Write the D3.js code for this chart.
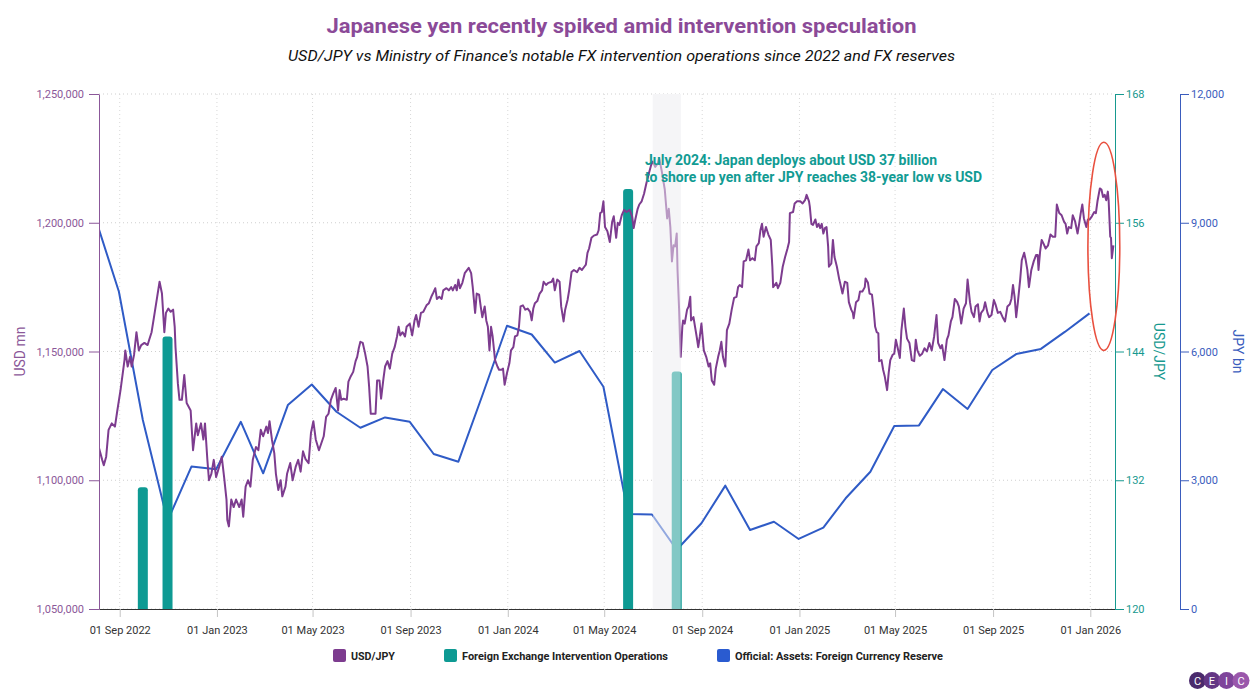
<!DOCTYPE html>
<html>
<head>
<meta charset="utf-8">
<script src="https://cdn.jsdelivr.net/npm/d3@7"></script>
<style>
  body { margin: 0; background: #fff; }
  svg { font-family: Roboto, "Noto Sans", sans-serif; }
</style>
</head>
<body>
<div id="chart"></div>
<script>
// USD/JPY (date, rate)
const usdjpy2022 = [
  ["2022-08-06",135.0],["2022-08-10",133.9],["2022-08-12",133.4],["2022-08-15",134.2],["2022-08-18",136.7],["2022-08-22",137.3],["2022-08-26",137.0],["2022-08-29",138.5],
  ["2022-09-02",140.4],["2022-09-07",143.2],["2022-09-08",144.1],["2022-09-11",142.6],["2022-09-14",143.5],["2022-09-16",142.6],["2022-09-19",143.7],["2022-09-22",145.8],["2022-09-25",144.1],["2022-09-28",144.6],
  ["2022-10-02",144.8],["2022-10-06",144.6],["2022-10-08",145.1],["2022-10-11",145.8],["2022-10-14",147.2],["2022-10-18",149.1],["2022-10-21",150.5],["2022-10-24",149.4],["2022-10-27",145.8],["2022-10-29",147.6],
  ["2022-11-01",148.0],["2022-11-04",147.7],["2022-11-07",147.9],["2022-11-09",146.3],["2022-11-10",144.4],["2022-11-13",141.0],["2022-11-15",139.5],["2022-11-18",139.5],["2022-11-21",141.8],["2022-11-24",139.2],["2022-11-29",138.5],
  ["2022-12-02",134.8],["2022-12-06",137.3],["2022-12-08",136.2],["2022-12-12",137.3],["2022-12-15",135.8],["2022-12-17",137.3],["2022-12-20",133.9],["2022-12-22",132.0],["2022-12-25",132.6],["2022-12-28",133.9],["2022-12-31",132.3]
];
const usdjpy2023 = [
  ["2023-01-04",133.3],["2023-01-07",134.2],["2023-01-10",132.3],["2023-01-13",130.2],["2023-01-14",128.3],["2023-01-16",127.7],["2023-01-19",130.2],["2023-01-22",129.5],["2023-01-25",130.2],["2023-01-29",129.5],
  ["2023-02-01",130.2],["2023-02-03",128.6],["2023-02-06",131.4],["2023-02-09",132.0],["2023-02-12",131.4],["2023-02-15",133.9],["2023-02-19",135.1],["2023-02-22",134.8],["2023-02-25",136.7],["2023-02-28",136.1],
  ["2023-03-04",137.0],["2023-03-06",136.4],["2023-03-08",137.5],["2023-03-11",135.8],["2023-03-14",134.5],["2023-03-16",132.6],["2023-03-19",131.1],["2023-03-22",132.0],["2023-03-24",130.5],["2023-03-28",131.4],["2023-03-30",132.6],
  ["2023-04-03",133.6],["2023-04-06",132.0],["2023-04-10",133.3],["2023-04-13",133.9],["2023-04-16",132.8],["2023-04-19",134.7],["2023-04-22",134.0],["2023-04-26",133.6],["2023-04-29",136.4],
  ["2023-05-02",137.5],["2023-05-05",135.8],["2023-05-09",134.8],["2023-05-15",136.1],["2023-05-18",137.9],["2023-05-21",138.2],["2023-05-24",139.5],["2023-05-27",140.1],["2023-05-30",140.6],
  ["2023-06-02",138.5],["2023-06-04",140.4],["2023-06-06",139.5],["2023-06-09",139.6],["2023-06-13",139.5],["2023-06-15",141.2],["2023-06-18",141.7],["2023-06-21",142.1],["2023-06-24",143.1],["2023-06-26",143.5],["2023-06-28",144.3],["2023-06-30",144.9],
  ["2023-07-03",144.8],["2023-07-06",143.8],["2023-07-09",142.6],["2023-07-11",140.7],["2023-07-13",138.2],["2023-07-19",138.2],["2023-07-21",141.3],["2023-07-24",141.3],["2023-07-26",139.6],["2023-07-29",141.5],["2023-07-31",142.6],
  ["2023-08-03",143.1],["2023-08-06",142.4],["2023-08-09",143.8],["2023-08-12",144.4],["2023-08-15",145.4],["2023-08-17",146.3],["2023-08-19",145.5],["2023-08-22",145.8],["2023-08-25",145.4],["2023-08-27",146.3],["2023-08-31",146.6],
  ["2023-09-03",145.5],["2023-09-06",146.9],["2023-09-08",147.4],["2023-09-11",146.3],["2023-09-14",147.6],["2023-09-17",147.7],["2023-09-21",148.3],["2023-09-24",148.5],["2023-09-27",149.1],["2023-09-29",149.4],
  ["2023-10-02",149.9],["2023-10-04",148.9],["2023-10-07",149.1],["2023-10-10",148.9],["2023-10-12",149.7],["2023-10-16",149.9],["2023-10-19",149.7],["2023-10-22",150.0],["2023-10-24",149.7],["2023-10-27",150.2],["2023-10-29",149.7],["2023-10-31",150.7],
  ["2023-11-02",149.9],["2023-11-05",150.4],["2023-11-08",151.3],["2023-11-13",151.8],["2023-11-16",151.3],["2023-11-18",150.0],["2023-11-21",147.6],["2023-11-23",149.4],["2023-11-26",149.3],["2023-11-28",148.2],["2023-11-30",147.2],
  ["2023-12-03",148.2],["2023-12-05",146.9],["2023-12-07",146.3],["2023-12-09",144.1],["2023-12-11",146.3],["2023-12-13",145.4],["2023-12-16",143.2],["2023-12-19",142.6],["2023-12-21",142.3],["2023-12-24",142.3],["2023-12-26",142.4],["2023-12-28",140.9],["2023-12-31",142.0]
];
const usdjpy2024 = [
  ["2024-01-03",142.9],["2024-01-05",144.1],["2024-01-08",144.4],["2024-01-10",145.4],["2024-01-13",145.5],["2024-01-15",146.3],["2024-01-17",148.2],["2024-01-20",148.3],["2024-01-23",147.9],["2024-01-26",148.0],["2024-01-29",147.7],["2024-01-31",146.9],
  ["2024-02-02",148.0],["2024-02-04",148.5],["2024-02-07",148.7],["2024-02-10",149.4],["2024-02-13",149.7],["2024-02-15",150.5],["2024-02-18",150.2],["2024-02-21",150.4],["2024-02-25",150.5],["2024-02-27",150.8],["2024-02-29",149.7],
  ["2024-03-03",150.7],["2024-03-06",150.5],["2024-03-08",148.2],["2024-03-11",146.8],["2024-03-13",147.9],["2024-03-16",148.8],["2024-03-18",149.7],["2024-03-21",151.4],["2024-03-24",151.6],["2024-03-28",151.4],["2024-03-31",151.8],
  ["2024-04-03",151.6],["2024-04-06",151.9],["2024-04-08",152.1],["2024-04-10",153.2],["2024-04-12",153.6],["2024-04-15",154.6],["2024-04-18",154.8],["2024-04-22",154.9],["2024-04-24",155.3],["2024-04-26",156.9],["2024-04-28",157.0],["2024-04-30",158.0],
  ["2024-05-02",155.6],["2024-05-05",155.2],["2024-05-08",154.2],["2024-05-11",156.1],["2024-05-13",156.6],["2024-05-16",154.6],["2024-05-18",156.0],["2024-05-20",155.8],["2024-05-23",156.7],["2024-05-26",157.2],["2024-05-29",157.0],
  ["2024-06-02",157.2],["2024-06-05",156.6],["2024-06-07",155.5],["2024-06-09",156.3],["2024-06-12",157.3],["2024-06-14",157.7],["2024-06-17",158.0],["2024-06-20",158.7],["2024-06-23",159.7],["2024-06-26",160.6],["2024-06-29",161.4],
  ["2024-07-01",161.7],["2024-07-04",161.2],["2024-07-07",161.5],["2024-07-09",162.0],["2024-07-12",160.9],["2024-07-14",160.0],["2024-07-16",159.1],["2024-07-19",156.4],["2024-07-21",157.3],["2024-07-23",155.6],["2024-07-25",152.4],["2024-07-27",153.9],["2024-07-29",153.8],["2024-07-31",155.0],
  ["2024-08-01",151.6],["2024-08-03",147.9],["2024-08-04",145.4],["2024-08-05",143.5],["2024-08-07",146.3],["2024-08-08",146.9],["2024-08-10",146.6],["2024-08-13",147.9],["2024-08-15",148.2],["2024-08-17",149.1],["2024-08-18",146.9],["2024-08-21",147.2],["2024-08-23",146.3],["2024-08-25",145.4],["2024-08-27",144.4],["2024-08-29",145.4],["2024-08-31",146.6],
  ["2024-09-03",144.1],["2024-09-06",143.5],["2024-09-09",142.6],["2024-09-11",142.9],["2024-09-13",141.3],["2024-09-16",140.9],["2024-09-18",142.4],["2024-09-21",143.5],["2024-09-23",144.1],["2024-09-25",144.9],["2024-09-27",143.5],["2024-09-30",142.6],
  ["2024-10-02",146.0],["2024-10-05",146.6],["2024-10-08",147.9],["2024-10-11",149.0],["2024-10-14",149.1],["2024-10-16",150.0],["2024-10-18",150.2],["2024-10-21",150.0],["2024-10-23",152.4],["2024-10-26",152.5],["2024-10-29",153.5],["2024-10-31",152.5],
  ["2024-11-03",152.7],["2024-11-06",152.5],["2024-11-08",153.8],["2024-11-11",154.1],["2024-11-13",155.3],["2024-11-15",155.9],["2024-11-17",154.7],["2024-11-20",155.6],["2024-11-23",154.9],["2024-11-26",154.4],["2024-11-28",151.9],["2024-11-29",150.0],
  ["2024-12-03",150.4],["2024-12-05",149.9],["2024-12-08",150.4],["2024-12-11",151.9],["2024-12-14",152.8],["2024-12-17",153.6],["2024-12-19",154.2],["2024-12-20",156.9],["2024-12-24",157.0],["2024-12-26",157.8],["2024-12-29",158.0]
];
const usdjpy2025 = [
  ["2025-01-02",158.0],["2025-01-05",157.8],["2025-01-08",158.1],["2025-01-10",158.6],["2025-01-13",158.0],["2025-01-14",157.5],["2025-01-16",155.9],["2025-01-18",155.8],["2025-01-21",156.3],["2025-01-23",155.6],["2025-01-25",155.9],["2025-01-27",155.5],["2025-01-29",155.9],["2025-01-31",155.0],
  ["2025-02-02",155.5],["2025-02-04",155.6],["2025-02-06",153.8],["2025-02-07",151.9],["2025-02-10",152.2],["2025-02-12",154.4],["2025-02-14",152.8],["2025-02-17",151.9],["2025-02-20",150.7],["2025-02-21",150.4],["2025-02-24",149.4],["2025-02-27",150.5],
  ["2025-03-02",150.4],["2025-03-04",148.6],["2025-03-07",147.9],["2025-03-09",147.6],["2025-03-10",147.1],["2025-03-13",148.6],["2025-03-16",148.8],["2025-03-18",149.6],["2025-03-21",149.6],["2025-03-24",150.0],["2025-03-25",150.8],["2025-03-28",150.4],["2025-03-30",149.4],
  ["2025-04-02",149.3],["2025-04-04",148.0],["2025-04-06",146.3],["2025-04-08",145.8],["2025-04-10",145.7],["2025-04-11",143.1],["2025-04-14",143.2],["2025-04-16",142.3],["2025-04-18",141.7],["2025-04-21",140.4],["2025-04-23",142.0],["2025-04-25",143.2],["2025-04-28",143.7],["2025-04-30",143.8],
  ["2025-05-02",145.1],["2025-05-05",144.1],["2025-05-07",143.4],["2025-05-09",146.0],["2025-05-12",148.0],["2025-05-14",146.3],["2025-05-16",145.2],["2025-05-19",144.8],["2025-05-22",143.2],["2025-05-25",143.1],["2025-05-27",145.1],["2025-05-29",144.1],
  ["2025-06-01",143.6],["2025-06-04",143.8],["2025-06-07",144.3],["2025-06-10",144.0],["2025-06-13",144.8],["2025-06-16",144.1],["2025-06-19",145.4],["2025-06-22",147.4],["2025-06-24",144.8],["2025-06-27",144.3],["2025-06-29",144.6],
  ["2025-07-02",143.2],["2025-07-05",145.1],["2025-07-07",145.5],["2025-07-10",146.8],["2025-07-12",147.2],["2025-07-15",148.9],["2025-07-18",148.6],["2025-07-20",148.2],["2025-07-23",146.6],["2025-07-26",148.0],["2025-07-29",148.5],["2025-07-31",150.7],
  ["2025-08-03",148.6],["2025-08-05",147.7],["2025-08-08",147.2],["2025-08-10",148.2],["2025-08-13",148.4],["2025-08-15",146.8],["2025-08-17",147.6],["2025-08-20",147.9],["2025-08-22",148.6],["2025-08-25",147.6],["2025-08-27",147.2],["2025-08-30",147.4],
  ["2025-09-02",148.8],["2025-09-04",148.4],["2025-09-07",147.6],["2025-09-10",147.7],["2025-09-13",147.2],["2025-09-16",146.8],["2025-09-19",148.2],["2025-09-22",148.4],["2025-09-24",148.9],["2025-09-26",150.2],["2025-09-28",149.1],["2025-09-30",147.2],
  ["2025-10-02",148.5],["2025-10-05",150.7],["2025-10-07",152.5],["2025-10-10",153.2],["2025-10-12",152.5],["2025-10-14",151.6],["2025-10-16",150.0],["2025-10-19",151.6],["2025-10-22",152.4],["2025-10-25",153.0],["2025-10-27",153.0],["2025-10-28",151.6],["2025-10-30",153.3],
  ["2025-11-01",154.4],["2025-11-03",154.1],["2025-11-06",153.6],["2025-11-09",153.9],["2025-11-12",154.9],["2025-11-15",154.7],["2025-11-18",154.7],["2025-11-20",157.7],["2025-11-23",156.9],["2025-11-26",156.7],["2025-11-29",156.1],
  ["2025-12-01",155.9],["2025-12-03",155.0],["2025-12-05",155.6],["2025-12-08",155.5],["2025-12-10",156.7],["2025-12-13",156.1],["2025-12-16",155.0],["2025-12-18",155.9],["2025-12-20",156.9],["2025-12-22",157.7],["2025-12-24",156.4],["2025-12-27",155.6],["2025-12-29",156.3],["2025-12-31",156.3]
];
const usdjpy2026 = [
  ["2026-01-03",156.6],["2026-01-06",157.0],["2026-01-08",156.9],["2026-01-10",158.0],["2026-01-13",159.2],["2026-01-15",159.1],["2026-01-17",158.4],["2026-01-19",158.6],["2026-01-21",158.1],["2026-01-23",158.9],["2026-01-24",158.1],["2026-01-26",154.7],["2026-01-27",154.6],["2026-01-28",152.7],["2026-01-30",153.9]
];

// Official: Assets: Foreign Currency Reserve, USD mn, month end
const reserveDates = [
  "2022-07-31","2022-08-31","2022-09-30","2022-10-31","2022-11-30","2022-12-31",
  "2023-01-31","2023-02-28","2023-03-31","2023-04-30","2023-05-31","2023-06-30",
  "2023-07-31","2023-08-31","2023-09-30","2023-10-31","2023-11-30","2023-12-31",
  "2024-01-31","2024-02-29","2024-03-31","2024-04-30","2024-05-31","2024-06-30",
  "2024-07-31","2024-08-31","2024-09-30","2024-10-31","2024-11-30","2024-12-31",
  "2025-01-31","2025-02-28","2025-03-31","2025-04-30","2025-05-31","2025-06-30",
  "2025-07-31","2025-08-31","2025-09-30","2025-10-31","2025-11-30","2025-12-31"
];
const reserveValues = [
  1203200, 1173200, 1123400, 1084200, 1105300, 1104300,
  1122700, 1102700, 1129200, 1137200, 1126600, 1120400,
  1124400, 1122700, 1110200, 1107200, 1132900, 1160000,
  1156600, 1145700, 1150200, 1136300, 1086900, 1086700,
  1073000, 1083300, 1097900, 1080700, 1083900, 1077200,
  1081600, 1093000, 1103300, 1121100, 1121300, 1135400,
  1127700, 1142800, 1149000, 1151000, 1157600, 1164800
];

// Foreign Exchange Intervention Operations, JPY bn
const interventionDates = ["2022-09-30", "2022-10-31", "2024-05-31", "2024-07-31"];
const interventionValues = [2838, 6349, 9788, 5532];

const reserveTicks = [1050000, 1100000, 1150000, 1200000, 1250000];
const fxTicks = [120, 132, 144, 156, 168];
const jpyTicks = [0, 3000, 6000, 9000, 12000];
const xDomain = ["2022-08-06", "2026-02-01"];

const highlightBand = ["2024-07-01", "2024-08-05"];
const circleDates = ["2025-12-29", "2026-02-07"];
const circleRates = [144.1, 163.5];

const titleText = "Japanese yen recently spiked amid intervention speculation";
const subtitleText = "USD/JPY vs Ministry of Finance's notable FX intervention operations since 2022 and FX reserves";
const noteLines = ["July 2024: Japan deploys about USD 37 billion", "to shore up yen after JPY reaches 38-year low vs USD"];
const legendLabels = ["USD/JPY", "Foreign Exchange Intervention Operations", "Official: Assets: Foreign Currency Reserve"];

const purple = "#7d3c8f",
    teal = "#0e9a93",
    blue = "#2f5bc6",
    bandFill = "#f5f5f7";

const width = 1259,
    height = 700;
const margin = {
        top: 94,
        right: 144,
        bottom: 91,
        left: 99
    },
    plotW = width - margin.left - margin.right,
    plotH = height - margin.top - margin.bottom;

const parse = d3.utcParse("%Y-%m-%d");

let svg = d3
    .select("#chart")
    .append("svg")
    .attr("width", width)
    .attr("height", height);

svg.append("rect").attr("width", width).attr("height", height).attr("fill", "#fff");

// titles
svg.append("text")
    .attr("x", 621.5)
    .attr("y", 33)
    .attr("text-anchor", "middle")
    .attr("font-size", 21)
    .attr("font-weight", "bold")
    .attr("fill", "#8b4a98")
    .attr("textLength", 590)
    .attr("lengthAdjust", "spacingAndGlyphs")
    .text(titleText);

svg.append("text")
    .attr("x", 621.5)
    .attr("y", 61)
    .attr("text-anchor", "middle")
    .attr("font-size", 15)
    .attr("font-style", "italic")
    .attr("fill", "#111")
    .attr("textLength", 667)
    .attr("lengthAdjust", "spacingAndGlyphs")
    .text(subtitleText);

let group = svg
    .append("g")
    .attr("transform", "translate(" + margin.left + "," + margin.top + ")");

const x = d3.scaleUtc()
    .domain(xDomain.map(parse))
    .range([0, plotW]);

const yRes = d3.scaleLinear().domain([1050000, 1250000]).range([plotH, 0]);
const yFx = d3.scaleLinear().domain([120, 168]).range([plotH, 0]);
const yJpy = d3.scaleLinear().domain([0, 12000]).range([plotH, 0]);

const xTicks = x.ticks(d3.utcMonth.every(4));

// grid
group.append("g")
    .selectAll("line")
    .data(reserveTicks)
    .enter()
    .append("line")
    .attr("x1", 0)
    .attr("x2", plotW)
    .attr("y1", d => yRes(d))
    .attr("y2", d => yRes(d))
    .attr("stroke", "#cfcfcf")
    .attr("stroke-dasharray", "1,3");

group.append("g")
    .selectAll("line")
    .data(xTicks)
    .enter()
    .append("line")
    .attr("x1", d => x(d))
    .attr("x2", d => x(d))
    .attr("y1", 0)
    .attr("y2", plotH)
    .attr("stroke", "#d8d8d8")
    .attr("stroke-dasharray", "1,3");

// July 2024 band
const bandX0 = x(parse(highlightBand[0])),
    bandX1 = x(parse(highlightBand[1]));
group.append("rect")
    .attr("x", bandX0)
    .attr("y", 0)
    .attr("width", bandX1 - bandX0)
    .attr("height", plotH)
    .attr("fill", bandFill);

svg.append("clipPath")
    .attr("id", "plot-clip")
    .append("rect")
    .attr("width", plotW)
    .attr("height", plotH);

// reserves line
const reserves = reserveDates.map((d, i) => ({ date: parse(d), value: reserveValues[i] }));
group.append("path")
    .datum(reserves)
    .attr("clip-path", "url(#plot-clip)")
    .attr("fill", "none")
    .attr("stroke", blue)
    .attr("stroke-width", 2)
    .attr("stroke-linejoin", "round")
    .attr("d", d3.line().x(d => x(d.date)).y(d => yRes(d.value)));

// intervention bars, rounded tops
function barPath(x0, y0, w, h, r) {
    return `M${x0},${y0 + h}V${y0 + r}Q${x0},${y0} ${x0 + r},${y0}H${x0 + w - r}Q${x0 + w},${y0} ${x0 + w},${y0 + r}V${y0 + h}Z`;
}
const barW = 10;
group.append("g")
    .selectAll("path")
    .data(interventionDates.map((d, i) => ({ date: parse(d), value: interventionValues[i] })))
    .enter()
    .append("path")
    .attr("fill", teal)
    .attr("d", d => barPath(x(d.date) - barW / 2, yJpy(d.value), barW, plotH - yJpy(d.value), 3));

// USD/JPY line
const fx = [].concat(usdjpy2022, usdjpy2023, usdjpy2024, usdjpy2025, usdjpy2026)
    .map(d => ({ date: parse(d[0]), value: d[1] }));
group.append("path")
    .datum(fx)
    .attr("clip-path", "url(#plot-clip)")
    .attr("fill", "none")
    .attr("stroke", purple)
    .attr("stroke-width", 2)
    .attr("stroke-linejoin", "round")
    .attr("d", d3.line().x(d => x(d.date)).y(d => yFx(d.value)));

// fade everything inside the band
group.append("rect")
    .attr("x", bandX0)
    .attr("y", 0)
    .attr("width", bandX1 - bandX0)
    .attr("height", plotH)
    .attr("fill", bandFill)
    .attr("opacity", 0.5);

// axes
const xAxis = d3.axisBottom(x)
    .tickValues(xTicks)
    .tickFormat(d3.utcFormat("%d %b %Y"))
    .tickSize(8)
    .tickPadding(9)
    .tickSizeOuter(0);

let xDisplay = group.append("g")
    .attr("transform", `translate(0, ${plotH})`)
    .call(xAxis);
xDisplay.select(".domain").attr("stroke", "#333");
xDisplay.selectAll(".tick line").attr("stroke", "#c4c4c4");
xDisplay.selectAll("text").attr("fill", "#333").attr("font-size", 11).attr("font-family", "Roboto");

function styleAxis(sel, color) {
    sel.select(".domain").attr("stroke", color);
    sel.selectAll(".tick line").attr("stroke", color);
    sel.selectAll("text").attr("fill", color).attr("font-size", 11).attr("font-family", "Roboto");
}

let yLeft = group.append("g")
    .call(d3.axisLeft(yRes).tickValues(reserveTicks).tickFormat(d3.format(",")).tickSize(10).tickPadding(5).tickSizeOuter(0));
styleAxis(yLeft, "#8b5799");

let yMid = group.append("g")
    .attr("transform", `translate(${plotW}, 0)`)
    .call(d3.axisRight(yFx).tickValues(fxTicks).tickSize(9).tickPadding(2).tickSizeOuter(0));
styleAxis(yMid, "#17998f");

let yRight = group.append("g")
    .attr("transform", `translate(${plotW + 65}, 0)`)
    .call(d3.axisRight(yJpy).tickValues(jpyTicks).tickFormat(d3.format(",")).tickSize(9).tickPadding(2).tickSizeOuter(0));
styleAxis(yRight, "#3a5cbd");

// axis titles
svg.append("text")
    .attr("transform", `translate(25, ${margin.top + plotH / 2}) rotate(-90)`)
    .attr("text-anchor", "middle")
    .attr("font-size", 14)
    .attr("fill", "#8b5799")
    .text("USD mn");

svg.append("text")
    .attr("transform", `translate(1154, ${margin.top + plotH / 2}) rotate(90)`)
    .attr("text-anchor", "middle")
    .attr("font-size", 14)
    .attr("fill", "#17998f")
    .text("USD/JPY");

svg.append("text")
    .attr("transform", `translate(1233, ${margin.top + plotH / 2}) rotate(90)`)
    .attr("text-anchor", "middle")
    .attr("font-size", 14)
    .attr("fill", "#3a5cbd")
    .text("JPY bn");

// annotation
const note = group.append("text")
    .attr("font-size", 14)
    .attr("font-weight", "bold")
    .attr("fill", "#119b93");
note.append("tspan")
    .attr("x", 546)
    .attr("y", 71)
    .attr("textLength", 292)
    .attr("lengthAdjust", "spacingAndGlyphs")
    .text(noteLines[0]);
note.append("tspan")
    .attr("x", 546)
    .attr("y", 88)
    .attr("textLength", 337)
    .attr("lengthAdjust", "spacingAndGlyphs")
    .text(noteLines[1]);

// red ellipse around the latest move
const cx0 = x(parse(circleDates[0])),
    cx1 = x(parse(circleDates[1]));
group.append("ellipse")
    .attr("cx", (cx0 + cx1) / 2)
    .attr("cy", (yFx(circleRates[0]) + yFx(circleRates[1])) / 2)
    .attr("rx", (cx1 - cx0) / 2)
    .attr("ry", (yFx(circleRates[0]) - yFx(circleRates[1])) / 2)
    .attr("fill", "none")
    .attr("stroke", "#e9503f")
    .attr("stroke-width", 1.6);

// legend
const legendColors = [purple, teal, "#2a5bd0"];
const legendX = [333, 444, 717];
const legendW = [44, 206, 208];
let legend = svg.append("g");
legendLabels.forEach((label, i) => {
    legend.append("rect")
        .attr("x", legendX[i])
        .attr("y", 649)
        .attr("width", 13)
        .attr("height", 13)
        .attr("rx", 2)
        .attr("fill", legendColors[i]);
    legend.append("text")
        .attr("x", legendX[i] + 18)
        .attr("y", 659.5)
        .attr("font-size", 11)
        .attr("font-weight", "bold")
        .attr("fill", "#222")
        .attr("textLength", legendW[i])
        .attr("lengthAdjust", "spacingAndGlyphs")
        .text(label);
});

// CEIC logo
const logoLetters = ["C", "E", "I", "C"];
const logoColors = ["#4a2a6c", "#643685", "#7e449a", "#9a57ab"];
let logo = svg.append("g");
logoLetters.forEach((l, i) => {
    logo.append("circle")
        .attr("cx", 1197.5 + i * 14.5)
        .attr("cy", 680.5)
        .attr("r", 8.5)
        .attr("fill", logoColors[i]);
});
logoLetters.forEach((l, i) => {
    logo.append("text")
        .attr("x", 1197.5 + i * 14.5)
        .attr("y", 684.5)
        .attr("text-anchor", "middle")
        .attr("font-size", 11)
        .attr("fill", "#fff")
        .text(l);
});
</script>
</body>
</html>
